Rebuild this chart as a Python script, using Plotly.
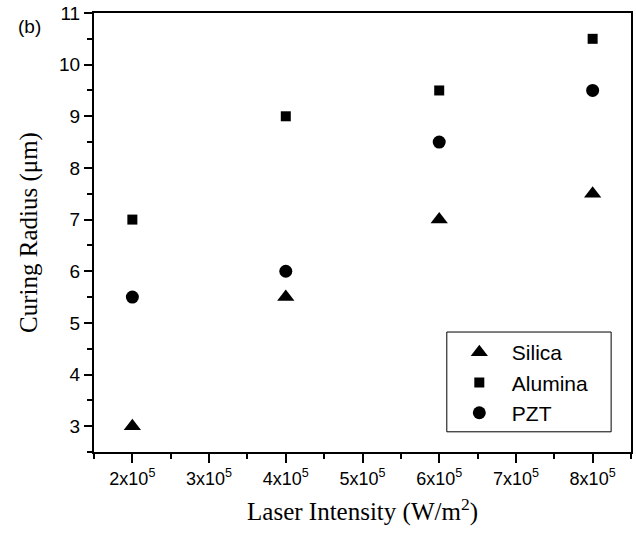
import plotly.graph_objects as go

intensity = [2e5, 4e5, 6e5, 8e5]
silica = [3.0, 5.5, 7.0, 7.5]
alumina = [7.0, 9.0, 9.5, 10.5]
pzt = [5.5, 6.0, 8.5, 9.5]

tick_vals = [2e5, 3e5, 4e5, 5e5, 6e5, 7e5, 8e5]
tick_text = ["%dx10<sup>5</sup>" % (v / 1e5) for v in tick_vals]

fig = go.Figure()
fig.add_trace(go.Scatter(x=intensity, y=silica, mode="markers", name="Silica",
                         marker=dict(symbol="triangle-up", size=15, color="black")))
fig.add_trace(go.Scatter(x=intensity, y=alumina, mode="markers", name="Alumina",
                         marker=dict(symbol="square", size=10, color="black")))
fig.add_trace(go.Scatter(x=intensity, y=pzt, mode="markers", name="PZT",
                         marker=dict(symbol="circle", size=13, color="black")))

sans = "Liberation Sans, Arial"
serif = "Liberation Serif, Times New Roman"
title_font = dict(family=serif, size=25, color="black")

fig.update_xaxes(
    range=[1.5e5, 8.5e5], tickvals=tick_vals, ticktext=tick_text,
    ticks="outside", ticklen=9, tickwidth=1.5, tickcolor="black",
    minor=dict(dtick=5e4, tick0=0, ticks="outside", ticklen=5, tickwidth=1.5, tickcolor="black"),
    showline=True, linecolor="black", linewidth=2, mirror=True,
    showgrid=False, zeroline=False, automargin=False,
    tickfont=dict(family=sans, size=18, color="black"),
    title=dict(text="Laser Intensity (W/m<sup>2</sup>)", font=title_font, standoff=15),
)
fig.update_yaxes(
    range=[2.5, 11], dtick=1, tick0=0,
    ticks="outside", ticklen=8, tickwidth=1.5, tickcolor="black",
    minor=dict(dtick=0.5, tick0=0, ticks="outside", ticklen=5, tickwidth=1.5, tickcolor="black"),
    showline=True, linecolor="black", linewidth=2, mirror=True,
    showgrid=False, zeroline=False, automargin=False,
    tickfont=dict(family=sans, size=19, color="black"),
    title=dict(text="Curing Radius (μm)", font=title_font, standoff=14),
)

fig.add_annotation(text="(b)", xref="paper", yref="paper", x=-0.145, y=0.97,
                   xanchor="left", yanchor="middle", showarrow=False,
                   font=dict(family=sans, size=19, color="black"))

# legend frame drawn as a shape so it can be wider than the entries
fig.add_shape(type="rect", xref="paper", yref="paper",
              x0=0.657, x1=0.963, y0=0.046, y1=0.2733,
              line=dict(color="black", width=1), fillcolor="rgba(0,0,0,0)")

fig.update_layout(
    width=636, height=533,
    margin=dict(l=94, r=5, t=13, b=81),
    plot_bgcolor="white", paper_bgcolor="white",
    legend=dict(x=0.657, y=0.2733, xanchor="left", yanchor="top",
                borderwidth=0, bgcolor="rgba(0,0,0,0)",
                itemwidth=55, tracegroupgap=0,
                font=dict(family=sans, size=21, color="black")),
)

# drop the default 8px body margin so the figure sits at the page corner
fig.write_html("out.html", config={"displayModeBar": False},
               post_script="document.body.style.margin='0';")
